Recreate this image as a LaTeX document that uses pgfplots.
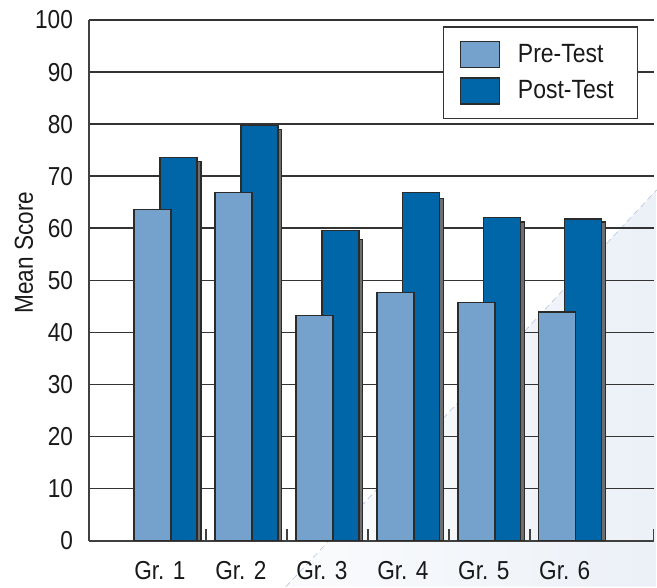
\documentclass[border=0pt]{standalone}
\usepackage{fontspec}
\setmainfont{Liberation Sans}[FakeStretch=0.87]
\usepackage{pgfplots}
\pgfplotsset{compat=1.18}
\usetikzlibrary{backgrounds}

\definecolor{preblue}{HTML}{74A2CC}
\definecolor{postblue}{HTML}{0066A8}
\definecolor{shadowgray}{HTML}{6E6E6E}
\definecolor{edge}{HTML}{2B2B2B}
\definecolor{bgblue}{HTML}{DFE7F2}
\definecolor{bgline}{HTML}{B4C4DF}

\newcommand{\chartfont}{\fontsize{13}{15.5}\selectfont}
\newcommand{\legendfont}{\fontsize{13.2}{16}\selectfont}

\begin{document}
\begin{tikzpicture}[x=1pt,y=1pt]
\begin{axis}[
    at={(0,0)}, anchor=south west,
    scale only axis,
    width=282.5pt, height=260.5pt,
    xmin=0.0556, xmax=7.031,
    ymin=0, ymax=100,
    axis x line*=bottom, axis y line*=left,
    axis line style={draw=black!75, line width=0.8pt},
    ytick={0,10,...,100},
    ymajorgrids=true,
    grid style={draw=black!80, line width=0.8pt},
    xtick={1,2,3,4,5,6},
    xticklabels={Gr. 1,Gr. 2,Gr. 3,Gr. 4,Gr. 5,Gr. 6},
    major tick length=0pt,
    extra x ticks={1.5,2.5,3.5,4.5,5.5,7.03},
    extra x tick labels={},
    extra x tick style={major tick length=6pt, tick align=inside, xmajorgrids=false,
        tick style={draw=black!75, line width=0.8pt}},
    /pgf/number format/assume math mode=true,
    every tick label/.append style={font=\chartfont, text=black!90},
    yticklabel style={xshift=-4.5pt},
    xticklabel style={yshift=-7pt, xshift=-2.75pt},
    ylabel={Mean Score},
    ylabel style={at={(rel axis cs:-0.115,0.553)}, anchor=center, font=\chartfont, text=black!90},
    ybar, bar shift=0pt, bar width=0.457,
    legend image code/.code={\draw[#1, line width=0.7pt] (0pt,-6.5pt) rectangle (19.5pt,6.5pt);},
    legend style={at={(rel axis cs:0.973,0.9885)}, anchor=north east,
        draw=black!80, line width=0.8pt, fill=white,
        inner xsep=8pt, inner ysep=7pt, row sep=4.5pt, column sep=8pt,
        font=\legendfont, text=black!90, nodes={inner sep=1pt}},
    legend cell align=left,
]
% shadow behind post-test bars
\addplot[forget plot, fill=shadowgray, draw=edge, line width=0.6pt]
    coordinates {(1.21,72.8) (2.21,79.0) (3.21,57.8) (4.21,65.7) (5.21,61.2) (6.21,61.2)};
% post-test
\addplot[forget plot, fill=postblue, draw=edge, line width=0.7pt]
    coordinates {(1.16,73.6) (2.16,79.7) (3.16,59.6) (4.16,66.9) (5.16,62.1) (6.16,61.8)};
% pre-test
\addplot[forget plot, fill=preblue, draw=edge, line width=0.7pt]
    coordinates {(0.84,63.6) (1.84,66.9) (2.84,43.2) (3.84,47.7) (4.84,45.7) (5.84,43.9)};

\addlegendimage{fill=preblue, draw=edge}
\addlegendentry{Pre-Test}
\addlegendimage{fill=postblue, draw=edge}
\addlegendentry{Post-Test\hspace*{3pt}}
\end{axis}
\begin{scope}[on background layer]
  \begin{scope}
    \clip (98.5,-23) -- (284,175.5) -- (284,-23) -- cycle;
    \shade[left color=white, right color=bgblue, rotate around={-43:(191.25,76.25)}]
        (191.25,-150) rectangle (327,300);
  \end{scope}
  \draw[bgline, line width=0.3pt, dash pattern=on 3pt off 2pt] (98.5,-23) -- (284,175.5);
\end{scope}
\path (-44.5,270.5) (284,-23);
\end{tikzpicture}
\end{document}
